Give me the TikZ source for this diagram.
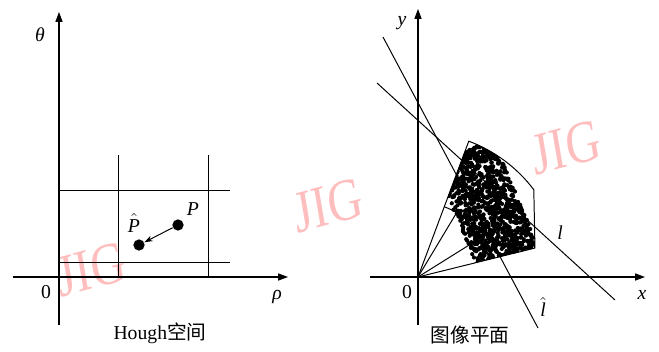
\documentclass[tikz,border=0pt]{standalone}
\usepackage{amsmath}
\usepackage{fontspec}
\setmainfont{Liberation Serif}
\newfontfamily\cjkfont{Noto Sans CJK SC}
\usetikzlibrary{arrows.meta}
\definecolor{jigpink}{RGB}{255,190,190}
\tikzset{axis/.style={
    line width=0.8pt,
    -{Triangle[length=7pt,width=5pt]}
  },
  gline/.style={line width=0.7pt},
  ray/.style={line width=0.7pt},
  pdot/.style={circle,fill=black,inner sep=0pt,minimum size=8pt},
  lbl/.style={font=\fontsize{14}{16}\selectfont},
  capt/.style={font=\fontsize{14}{16}\selectfont},
  wmark/.style={text=jigpink,font=\fontsize{34}{36}\selectfont,yscale=1.25,rotate=12},
}

\begin{document}
\begin{tikzpicture}[x=0.025cm,y=0.025cm]
  \useasboundingbox (0,0) rectangle (659,351);
  % watermarks
  \node[wmark] (wm1) at (91,82) {JIG};
  \node[wmark] (wm2) at (328,146) {JIG};
  \node[wmark] (wm3) at (566,204) {JIG};
  % Hough space
  \coordinate (t0) at (59,26);
  \coordinate (t1) at (59,339);
  \coordinate (r0) at (13,74);
  \coordinate (r1) at (288,74);
  \draw[axis] (t0) -- (t1);
  \draw[axis] (r0) -- (r1);
  \foreach \y in {89,161} \draw[gline] (59,\y) -- (230,\y);
  \foreach \x in {118,208} \draw[gline] (\x,74) -- (\x,196);
  \node[lbl] (theta) at (40,316) {\textit{θ}};
  \node[lbl] (rho) at (277,54) {\textit{ρ}};
  \node[lbl] (zl) at (46,59) {0};
  \node[pdot] (P) at (178,126) {};
  \node[pdot] (Ph) at (139,106) {};
  \node[lbl] (Plbl) at (193,142) {\textit{P}};
  \node[lbl] (Phlbl) at (134,128) {$\hat{\textit{P}}$};
  \draw[line width=0.7pt,-{Stealth[length=6pt,width=4pt]}] (P) -- (Ph);
  \node[capt] (hough) at (160,18) {Hough{\cjkfont 空间}};
  % image plane
  \coordinate (y0) at (418,26);
  \coordinate (y1) at (418,342);
  \coordinate (x0) at (370,74);
  \coordinate (x1) at (645,74);
  \draw[axis] (y0) -- (y1);
  \draw[axis] (x0) -- (x1);
  \node[lbl] (ylbl) at (402,328) {\textit{y}};
  \node[lbl] (xlbl) at (642,56) {\textit{x}};
  \node[lbl] (zr) at (407,59) {0};
  \begin{scope}[shift={(418,74)}]
    \coordinate (O) at (0,0);
    \begin{scope}
      \clip (O) -- (69.5:145) arc (69.5:37:145) -- (13.9:120.5) -- cycle;
      \pgfmathsetseed{42}
      \foreach \i in {1,...,1300}{
        \pgfmathsetmacro{\t}{rnd}
        \pgfmathsetmacro{\s}{rand}
        \fill ({46+46*\t+32*\s*0.93},{126-112*\t+32*\s*0.37}) circle (2.1);
      }
    \end{scope}
    \draw[ray] (O) -- (69.5:145) arc (69.5:37:145) -- (13.9:120.5) -- cycle;
    \draw[ray] (69.5:75) arc (69.5:32:75) -- (13.9:67);
    \draw[ray] (O) -- (59:75);
    \draw[ray] (O) -- (32:75);
  \end{scope}
  \coordinate (lh0) at (383,314);
  \coordinate (lh1) at (538,23);
  \coordinate (l0) at (377,268);
  \coordinate (l1) at (615,51);
  \draw[ray] (lh0) -- (lh1);
  \draw[ray] (l0) -- (l1);
  \node[lbl] (lhlbl) at (543,44) {$\hat{\textit{l}}$};
  \node[lbl] (llbl) at (560,118) {\textit{l}};
  \node[capt] (plane) at (470,16) {\cjkfont 图像平面};
\end{tikzpicture}
\end{document}
